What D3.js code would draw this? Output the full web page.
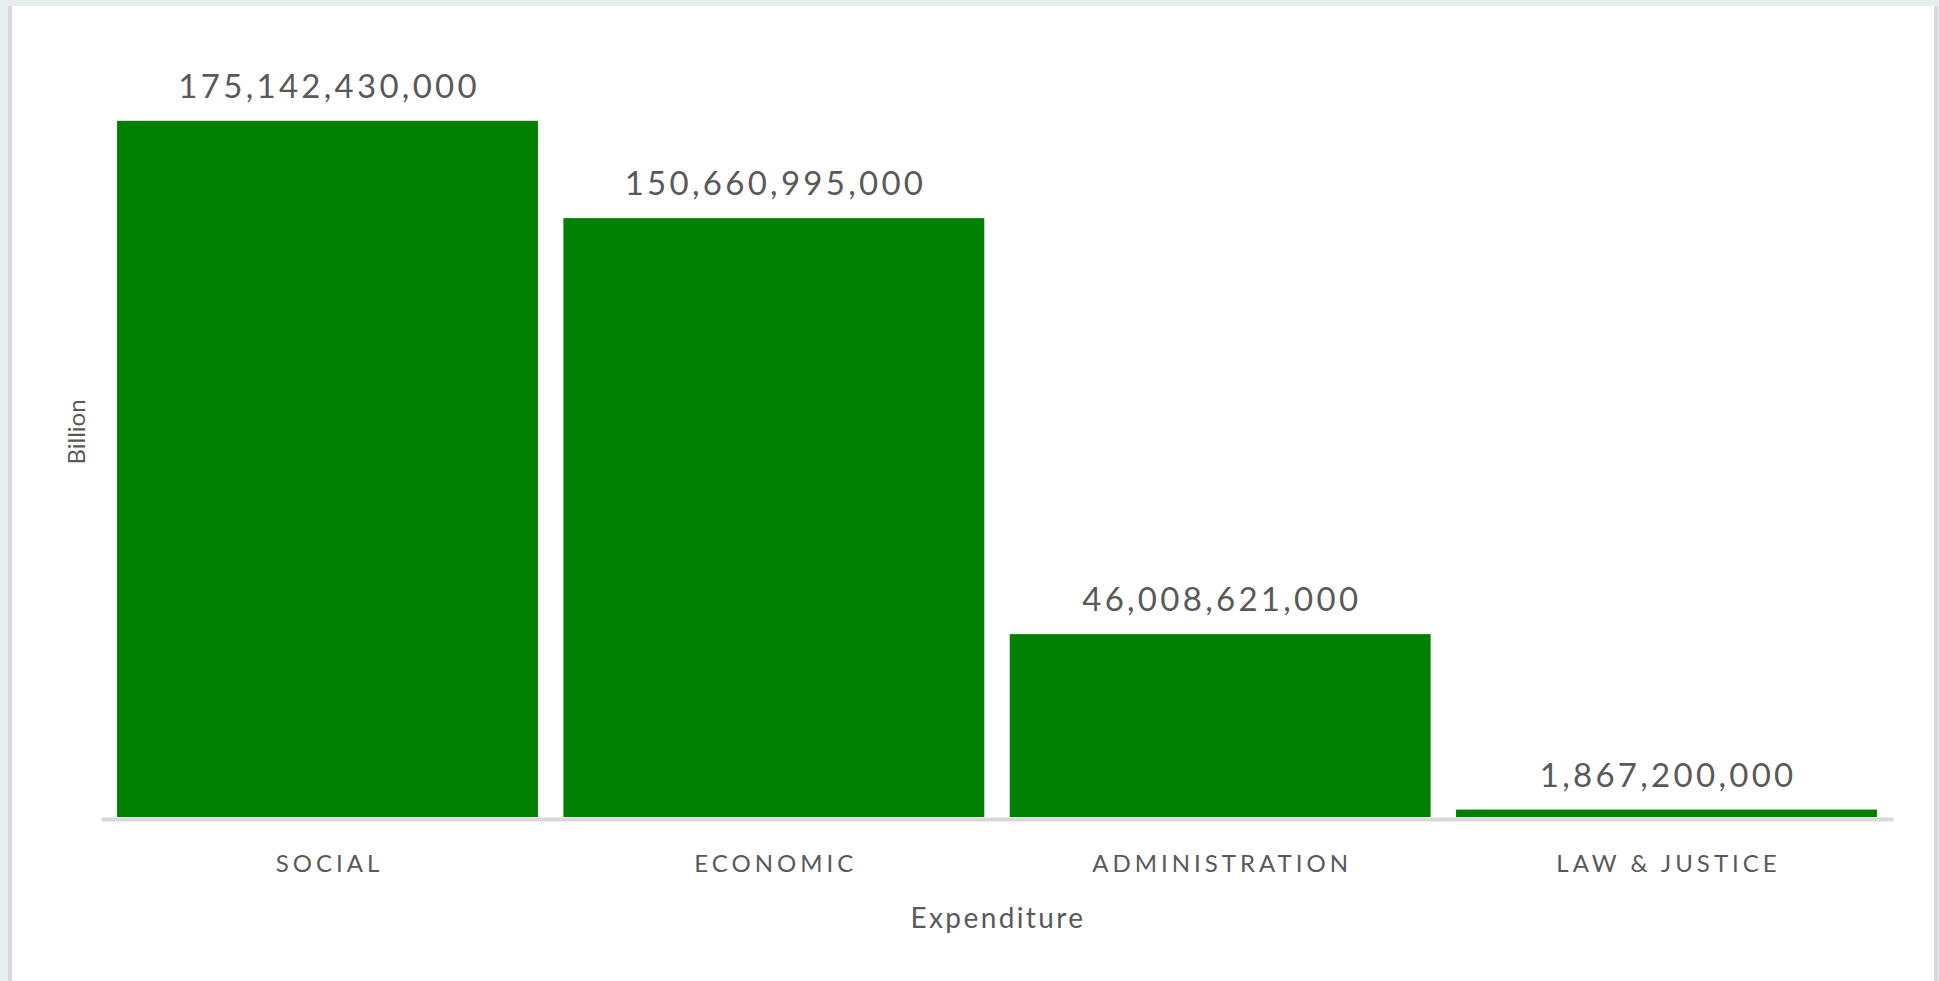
<!DOCTYPE html>
<html>
<head>
<meta charset="utf-8">
<script src="https://cdn.jsdelivr.net/npm/d3@7"></script>
<style>
  html, body { margin: 0; padding: 0; background: #e6eef0; }
  svg { display: block; }
  text { font-family: Lato, "Open Sans", sans-serif; fill: #595959; }
</style>
</head>
<body>
<svg id="chart" width="1939" height="981"></svg>
<script>
// Expenditure by sector
const categories = ["SOCIAL", "ECONOMIC", "ADMINISTRATION", "LAW & JUSTICE"];
const amounts = [175142430000, 150660995000, 46008621000, 1867200000];
const yAxisTitle = "Billion";
const xAxisTitle = "Expenditure";

const W = 1939, H = 981;
const svg = d3.select("#chart");

// card background
svg.append("rect").attr("x", 0).attr("y", 0).attr("width", W).attr("height", H).attr("fill", "#e6eef0");
svg.append("rect").attr("x", 8).attr("y", 6).attr("width", W - 8 - 1).attr("height", H - 6).attr("fill", "#d9d9d9");
svg.append("rect").attr("x", 12).attr("y", 6).attr("width", W - 12 - 5).attr("height", H - 6).attr("fill", "#ffffff");

const plot = { left: 101, right: 1893, top: 22, bottom: 817 };

const x = d3.scaleBand()
  .domain(categories)
  .range([plot.left, plot.right])
  .paddingInner(0.057)
  .paddingOuter(0.036);

const y = d3.scaleLinear()
  .domain([0, 200e9])
  .range([plot.bottom, plot.top]);

const data = categories.map((c, i) => ({ cat: c, value: amounts[i] }));

// bars
svg.append("g").selectAll("rect")
  .data(data)
  .join("rect")
  .attr("x", d => x(d.cat))
  .attr("y", d => y(d.value))
  .attr("width", x.bandwidth())
  .attr("height", d => y(0) - y(d.value))
  .attr("fill", "#008000");

// baseline axis
const catSpacing = 4;
const xAxis = svg.append("g")
  .attr("transform", `translate(0,${plot.bottom + 2})`)
  .call(d3.axisBottom(x).tickSize(0).tickPadding(0));
xAxis.select(".domain").attr("stroke", "#d9d9d9").attr("stroke-width", 4);
xAxis.selectAll(".tick text")
  .attr("dy", null)
  .attr("y", 53)
  .attr("x", catSpacing / 2)
  .style("font-size", "24px")
  .style("letter-spacing", catSpacing + "px")
  .attr("fill", "#595959");

// value labels
const fmt = d3.format(",");
const valSpacing = 3.3;
svg.append("g").selectAll("text")
  .data(data)
  .join("text")
  .attr("x", d => x(d.cat) + x.bandwidth() / 2 + valSpacing / 2)
  .attr("y", d => y(d.value) - 23)
  .attr("text-anchor", "middle")
  .style("font-size", "33px")
  .style("letter-spacing", valSpacing + "px")
  .text(d => fmt(d.value));

// axis titles
svg.append("text")
  .attr("x", (plot.left + plot.right) / 2 + 1)
  .attr("y", 928)
  .attr("text-anchor", "middle")
  .style("font-size", "28px")
  .style("letter-spacing", "2.4px")
  .text(xAxisTitle);

svg.append("text")
  .attr("transform", `translate(85,432) rotate(-90)`)
  .attr("text-anchor", "middle")
  .style("font-size", "24px")
  .text(yAxisTitle);
</script>
</body>
</html>
